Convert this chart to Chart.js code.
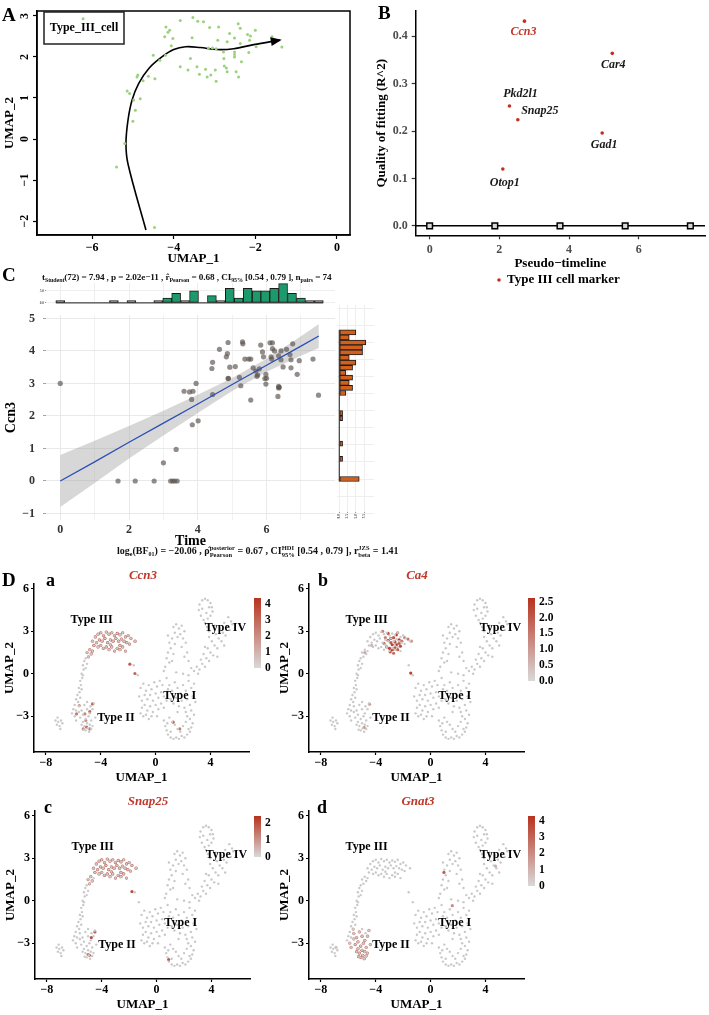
<!DOCTYPE html>
<html>
<head>
<meta charset="utf-8">
<title>Type III cell markers</title>
<script src="https://cdn.jsdelivr.net/npm/chart.js@4.4.1/dist/chart.umd.min.js"></script>
<style>
  body { margin: 0; width: 709px; height: 1015px; position: relative; overflow: hidden; background: #fff; font-family: "Liberation Serif", serif; }
  canvas { position: absolute; }
  .txt { position: absolute; font-weight: bold; white-space: nowrap; color: #000; line-height: 1; }
  .letter { font-size: 19px; }
  .sub { font-size: 18px; }
  .gene { font-style: italic; color: #c0392b; font-size: 13px; transform: translate(-50%, -50%); }
  .stat { font-size: 10px; color: #111; }
  .stat sub { font-size: 6px; vertical-align: -2px; }
  .stk { display: inline-flex; flex-direction: column; font-size: 6.5px; line-height: 1; vertical-align: middle; }
  .top { font-size: 9.2px; letter-spacing: -0.1px; }
</style>
</head>
<body>
<canvas id="chartA" width="355" height="266" style="left:0;top:0"></canvas>
<canvas id="chartB" width="354" height="290" style="left:355px;top:0"></canvas>
<canvas id="chartTopHist" width="340" height="26" style="left:0;top:280px"></canvas>
<canvas id="chartC" width="340" height="252" style="left:0;top:300px"></canvas>
<canvas id="chartRightHist" width="55" height="230" style="left:330px;top:300px"></canvas>
<canvas id="chartDa" width="290" height="212" style="left:0;top:575px"></canvas>
<canvas id="chartDb" width="290" height="212" style="left:275px;top:575px"></canvas>
<canvas id="chartDc" width="290" height="212" style="left:1px;top:802px"></canvas>
<canvas id="chartDd" width="290" height="212" style="left:275px;top:802px"></canvas>

<div class="txt letter" style="left:2px;top:5px">A</div>
<div class="txt letter" style="left:378px;top:3px">B</div>
<div class="txt letter" style="left:2px;top:265px">C</div>
<div class="txt letter" style="left:2px;top:570px">D</div>
<div class="txt sub" style="left:46px;top:571px">a</div>
<div class="txt sub" style="left:318px;top:571px">b</div>
<div class="txt sub" style="left:44px;top:798px">c</div>
<div class="txt sub" style="left:317px;top:798px">d</div>
<div class="txt gene" style="left:143px;top:574px">Ccn3</div>
<div class="txt gene" style="left:417px;top:574px">Ca4</div>
<div class="txt gene" style="left:148px;top:800px">Snap25</div>
<div class="txt gene" style="left:418px;top:800px">Gnat3</div>

<div class="txt stat top" style="left:42px;top:273px">t<sub>Student</sub>(72) = 7.94 , p = 2.02e&minus;11 , r&#770;<sub>Pearson</sub> = 0.68 , CI<sub>95%</sub> [0.54 , 0.79 ], n<sub>pairs</sub> = 74</div>
<div class="txt stat" style="left:117px;top:545px">log<sub>e</sub>(BF<sub>01</sub>) = &minus;20.06 , &rho;&#770;<span class="stk"><span>posterior</span><span>Pearson</span></span> = 0.67 , CI<span class="stk"><span>HDI</span><span>95%</span></span> [0.54 , 0.79 ], r<span class="stk"><span>JZS</span><span>beta</span></span> = 1.41</div>

<script>
// ---------- A : Type III cells on UMAP with trajectory ----------
const cellsA = [[-6.22,2.93],[-3.53,2.96],[-3.84,2.89],[-3.41,2.87],[-3.27,2.86],[-4.19,2.73],[-4.10,2.65],[-4.14,2.60],[-3.12,2.72],[-2.90,2.73],[-2.42,2.81],[-2.37,2.70],[-2.00,2.65],[-2.19,2.55],[-2.12,2.51],[-2.63,2.57],[-3.55,2.47],[-4.22,2.49],[-4.02,2.45],[-2.51,2.46],[-2.14,2.41],[-2.92,2.41],[-2.69,2.37],[-2.37,2.33],[-1.59,2.49],[-1.58,2.37],[-1.35,2.24],[-1.98,2.25],[-4.06,2.27],[-3.15,2.22],[-3.05,2.22],[-2.96,2.20],[-2.78,2.12],[-2.51,2.12],[-2.51,2.06],[-2.51,2.00],[-2.16,2.11],[-4.20,2.04],[-4.50,2.04],[-3.59,1.96],[-2.77,1.96],[-2.34,1.88],[-4.34,1.92],[-3.84,1.76],[-3.65,1.68],[-3.43,1.76],[-2.76,1.78],[-2.71,1.73],[-3.22,1.70],[-2.98,1.68],[-2.69,1.64],[-2.47,1.64],[-3.37,1.58],[-3.09,1.56],[-3.18,1.51],[-2.96,1.41],[-2.41,1.51],[-4.88,1.56],[-4.90,1.51],[-4.62,1.53],[-4.46,1.47],[-4.75,1.42],[-5.14,1.17],[-5.08,1.11],[-4.82,0.98],[-4.98,0.95],[-4.94,0.70],[-5.00,0.43],[-5.20,-0.11],[-5.40,-0.68],[-4.47,-2.16]];
const trajectory = [[-4.68,-2.22],[-5.12,-0.61],[-5.17,-0.11],[-5.12,0.46],[-5.02,0.95],[-4.86,1.35],[-4.61,1.72],[-4.29,2.00],[-4.00,2.18],[-3.71,2.25],[-3.35,2.23],[-2.94,2.18],[-2.53,2.20],[-2.04,2.30],[-1.40,2.41]];
const aTicksX = [-6, -4, -2, 0];
const aTicksY = [-2, -1, 0, 1, 2, 3];

// ---------- B : quality of fitting ----------
const markerGenes = ['Ccn3', 'Car4', 'Pkd2l1', 'Snap25', 'Gad1', 'Otop1'];
const markerTime = [2.72, 5.24, 2.29, 2.53, 4.95, 2.10];
const markerR2 = [0.432, 0.364, 0.253, 0.224, 0.196, 0.120];
const knotTime = [0, 1.87, 3.74, 5.61, 7.48];
const knotR2 = [0, 0, 0, 0, 0];
const bTicksX = [0, 2, 4, 6];
const bTicksY = [0, 0.1, 0.2, 0.3, 0.4];

// ---------- C : Ccn3 vs time ----------
const cTime = [0,1.68,2.18,2.73,3.21,3.27,3.33,3.40,3.00,3.37,3.84,4.01,3.60,3.76,3.86,3.82,3.95,4.43,4.88,5.25,5.54,5.95,5.98,6.35,6.37,6.33,7.51,4.88,5.30,5.31,4.63,4.86,4.83,4.43,4.41,4.93,5.09,5.37,5.48,5.54,4.89,5.21,5.83,5.88,5.91,6.10,6.17,6.17,6.23,6.42,6.58,6.35,6.13,6.15,6.42,6.68,6.76,6.71,6.95,7.35,6.48,6.71,6.89,5.61,5.69,5.79,5.74,5.72,5.98,6.00,6.35];
const cCcn3 = [3.00,0,0,0,0,0,0,0,0.56,0.97,1.73,1.85,2.76,2.74,2.76,2.51,3.00,2.66,3.15,2.93,2.49,3.15,2.98,2.86,2.88,2.60,2.64,4.26,4.28,4.22,4.05,3.92,3.82,3.65,3.46,3.50,3.52,3.75,3.75,3.75,3.16,3.19,4.18,3.97,3.82,4.25,4.25,4.07,4.00,4.00,4.05,3.85,3.82,3.75,3.73,3.89,4.22,3.73,3.70,3.75,3.51,3.48,3.28,3.48,3.38,3.45,3.26,3.22,3.28,3.16,2.91];
const fitTime = [0, 1, 2, 3, 4, 5, 6, 7, 7.52];
const fitMean = [0, 0.59, 1.19, 1.78, 2.37, 2.97, 3.56, 4.15, 4.46];
const fitUpper = [0.80, 1.24, 1.69, 2.16, 2.65, 3.17, 3.76, 4.45, 4.83];
const fitLower = [-0.80, -0.06, 0.69, 1.40, 2.09, 2.77, 3.36, 3.85, 4.09];
const timeBins = [0,0.26,0.52,0.78,1.04,1.30,1.56,1.82,2.07,2.33,2.59,2.85,3.11,3.37,3.63,3.89,4.15,4.41,4.67,4.93,5.19,5.45,5.71,5.96,6.22,6.48,6.74,7.00,7.26,7.52];
const timeCounts = [1,0,0,0,0,0,1,0,1,0,0,1,2,4,1,5,0,3,1,6,2,6,5,5,6,8,4,2,1,1];
const ccn3Bins = [0,0.15,0.30,0.44,0.59,0.74,0.89,1.04,1.19,1.33,1.48,1.63,1.78,1.93,2.08,2.22,2.37,2.52,2.67,2.82,2.97,3.11,3.26,3.41,3.56,3.71,3.86,4.00,4.15,4.30];
const ccn3Counts = [6,0,0,0,1,0,0,1,0,0,0,0,1,1,0,0,0,2,4,3,4,2,4,5,3,7,7,8,3,5];
const cGridX = [0, 1, 2, 3, 4, 5, 6, 7];
const cGridY = [-1, -0.5, 0, 0.5, 1, 1.5, 2, 2.5, 3, 3.5, 4, 4.5, 5];
const histTicks = [0, 2.5, 5, 7.5];

// ---------- D : feature plots ----------
const umapCells = [
 [-4.6,2.3],[-4.4,2.6],[-4.2,2.8],[-4.0,2.9],[-3.8,2.7],[-3.6,2.95],[-3.4,2.8],[-3.2,2.9],[-3.0,2.7],[-2.8,2.85],[-2.6,2.75],[-2.4,2.9],[-2.2,2.6],[-2.0,2.7],[-1.8,2.5],[-1.5,2.3],
 [-4.5,2.0],[-4.3,2.2],[-4.1,2.4],[-3.9,2.3],[-3.7,2.5],[-3.5,2.2],[-3.3,2.4],[-3.1,2.3],[-2.9,2.5],[-2.7,2.3],[-2.5,2.45],[-2.3,2.3],[-2.1,2.2],[-1.9,2.1],
 [-4.2,1.9],[-4.0,2.0],[-3.8,1.8],[-3.6,1.9],[-3.4,1.7],[-3.2,1.9],[-3.0,1.6],[-2.8,1.8],[-2.6,1.7],[-2.4,1.9],[-2.2,1.6],[-2.6,2.0],[-3.3,2.05],
 [-4.8,1.7],[-5.0,1.5],[-4.7,1.4],[-4.9,1.2],[-5.1,1.1],[-4.6,1.6],[-1.6,0.6],[-1.3,-0.1],
 [-5.2,0.9],[-5.3,0.6],[-5.25,0.3],[-5.4,0.0],[-5.35,-0.3],[-5.5,-0.5],[-5.45,-0.8],[-5.6,-1.0],[-5.55,-1.3],[-5.7,-1.5],[-5.8,-1.8],[-5.65,-2.0],[-5.9,-2.2],[-6.0,-2.5],[-5.1,0.4],[-5.0,0.7],[-5.3,-0.1],[-5.4,-1.1],[-5.5,-1.7],[-5.8,-2.6],[-6.1,-2.8],[-5.9,-3.0],
 [-5.6,-2.3],[-5.4,-2.6],[-5.2,-2.2],[-5.0,-2.5],[-4.8,-2.8],[-5.3,-2.9],[-5.5,-3.1],[-5.1,-3.2],[-4.9,-3.0],[-4.7,-3.3],[-5.3,-3.4],[-5.0,-3.5],[-4.8,-3.6],[-5.2,-3.7],[-4.95,-3.85],[-4.7,-3.9],[-5.1,-4.0],[-4.85,-4.1],[-4.6,-3.7],[-5.4,-3.6],[-5.6,-2.7],[-4.5,-2.1],[-4.6,-2.5],[-5.8,-3.3],[-4.4,-3.1],[-5.0,-2.0],[-4.75,-2.3],[-5.25,-3.95],
 [-7.3,-3.3],[-7.1,-3.4],[-6.9,-3.3],[-7.2,-3.6],[-7.0,-3.7],[-6.8,-3.5],[-6.95,-3.9],[-7.15,-3.1],
 [-1.1,-1.0],[-0.9,-0.7],[-0.7,-1.2],[-0.5,-0.8],[-0.3,-1.1],[-0.1,-0.6],[0.1,-0.9],[0.3,-0.5],[0.5,-0.8],
 [-1.2,-1.6],[-1.0,-1.9],[-0.8,-1.5],[-0.6,-1.8],[-0.4,-1.5],[-0.2,-1.9],[0.0,-1.4],[0.2,-1.7],[0.4,-1.3],[0.6,-1.6],
 [-1.0,-2.4],[-0.8,-2.2],[-0.6,-2.6],[-0.4,-2.3],[-0.2,-2.7],[0.0,-2.2],[0.2,-2.5],[0.4,-2.1],[0.6,-2.4],
 [-0.9,-3.0],[-0.7,-2.9],[-0.5,-3.2],[-0.3,-3.0],[-1.1,-2.8],[0.1,-3.0],
 [0.6,-3.3],[0.7,-3.7],[0.8,-4.0],[0.9,-4.3],[1.1,-4.5],[1.3,-4.6],[1.5,-4.5],[1.7,-4.6],[1.9,-4.4],[2.1,-4.5],[2.3,-4.3],[2.5,-4.1],[2.6,-3.8],[2.7,-3.5],[2.5,-3.2],[2.3,-3.0],[1.0,-3.1],[1.2,-3.4],[1.4,-3.6],[1.6,-3.9],[1.8,-4.1],[2.0,-3.7],[2.2,-3.4],[1.1,-4.1],[2.4,-3.9],[0.85,-3.5],
 [1.0,-0.8],[1.2,-1.2],[1.4,-0.6],[1.6,-1.0],[1.8,-1.4],[2.0,-0.8],[2.2,-1.2],[2.4,-0.5],[2.6,-1.0],[2.8,-0.7],
 [1.1,-1.8],[1.3,-2.1],[1.5,-1.7],[1.7,-2.3],[1.9,-1.9],[2.1,-2.4],[2.3,-1.8],[2.5,-2.2],[2.7,-1.6],[2.9,-2.0],
 [2.2,-2.7],[2.6,-2.6],[2.8,-2.9],[1.6,-2.7],[0.8,-1.9],[0.9,-1.1],[2.0,0.0],[2.4,-0.1],[1.5,0.1],[0.8,-0.3],
 [2.8,0.2],[3.0,0.5],[3.2,0.3],[3.4,0.7],[3.6,0.5],[3.3,1.0],[3.7,1.1],[3.9,0.9],[3.5,1.4],[4.0,1.5],[4.2,1.3],[3.8,1.8],[4.3,2.0],[4.5,1.8],[4.1,2.3],[4.6,2.5],[4.8,2.3],[4.4,2.8],[4.9,2.9],[5.1,2.7],[4.7,3.2],[5.2,3.3],[5.4,3.1],[5.0,3.6],[5.5,3.7],[5.3,4.0],[5.6,3.5],[4.3,3.4],[3.9,2.6],[3.1,0.0],[2.6,0.4],[4.5,1.2],[3.6,1.9],[5.0,2.0],
 [3.2,4.9],[3.4,5.2],[3.6,5.3],[3.8,5.2],[4.0,5.0],[4.1,4.7],[4.15,4.4],[4.0,4.1],[3.8,3.9],[3.5,3.8],[3.3,4.1],[3.15,4.5],[3.7,4.3],[3.9,4.7],[3.4,4.6],[3.6,3.6],[3.75,3.3],[3.9,3.0],
 [1.3,3.3],[1.5,3.5],[1.7,3.2],[1.9,3.4],[2.1,3.0],[1.4,2.9],[1.6,2.6],[1.8,2.8],[1.2,2.5],[1.0,2.2],[1.4,2.1],[1.1,1.8],[0.9,1.5],[1.3,1.4],[0.8,1.1],[1.0,0.8],[0.7,0.5],[1.2,0.9],[0.6,0.2],[2.0,2.5],[2.2,2.2],[1.9,1.9],[2.3,1.5],[2.1,1.2],[2.4,0.9],[0.9,2.7]
];
const ccn3Expr = [
 [-4.6,2.3,3.2],[-4.4,2.6,3.8],[-4.2,2.8,3.0],[-4.0,2.9,4.2],[-3.8,2.7,3.5],[-3.6,2.95,4.0],[-3.4,2.8,3.3],[-3.2,2.9,3.9],[-3.0,2.7,3.6],[-2.8,2.85,4.1],[-2.6,2.75,3.4],[-2.4,2.9,3.8],[-2.2,2.6,3.7],[-2.0,2.7,3.2],[-1.8,2.5,3.0],[-1.5,2.3,3.5],
 [-4.5,2.0,3.9],[-4.3,2.2,3.1],[-4.1,2.4,4.0],[-3.9,2.3,3.6],[-3.7,2.5,4.3],[-3.5,2.2,3.8],[-3.3,2.4,3.5],[-3.1,2.3,4.1],[-2.9,2.5,3.7],[-2.7,2.3,3.9],[-2.5,2.45,3.3],[-2.3,2.3,4.0],[-2.1,2.2,3.6],[-1.9,2.1,3.4],
 [-4.2,1.9,3.5],[-4.0,2.0,3.2],[-3.8,1.8,3.8],[-3.6,1.9,4.0],[-3.4,1.7,3.4],[-3.2,1.9,3.9],[-3.0,1.6,3.1],[-2.8,1.8,3.7],[-2.6,1.7,3.5],[-2.4,1.9,3.8],[-2.2,1.6,3.0],[-2.6,2.0,4.2],[-3.3,2.05,3.6],
 [-4.8,1.7,3.0],[-5.0,1.5,2.8],[-4.7,1.4,3.3],[-4.9,1.2,2.6],[-4.6,1.6,3.1],[-1.88,0.68,3.2],[-1.51,0.02,3.0],
 [-5.77,-2.84,2.5],[-5.57,-2.25,2.0],[-4.6,-2.13,3.2],[-4.8,-2.67,2.8],[-5.16,-2.84,2.2],[-5.09,-3.3,2.0],[-5.04,-3.77,3.0],[-4.8,-3.9,2.6],[-5.28,-3.9,2.4],
 [1.28,-3.42,3.0],[1.76,-3.9,2.4]
];
const ca4Expr = [
 [-3.5,3.0,1.5],[-3.1,2.85,2.2],[-2.9,2.5,2.5],[-2.7,2.55,2.0],[-2.5,2.75,2.4],[-2.4,2.9,1.8],[-2.3,2.4,2.5],[-2.6,2.25,2.2],[-2.9,2.2,1.9],[-3.1,2.35,2.6],[-2.8,2.05,2.3],[-2.5,2.05,2.5],[-2.3,2.15,2.0],[-2.1,2.3,1.6],[-1.9,2.55,1.2],[-1.65,2.45,1.5],[-1.4,2.3,1.1],[-3.0,1.8,2.4],[-2.8,1.7,2.5],[-2.6,1.85,2.1],[-3.2,1.9,2.0],[-2.4,1.7,1.8],[-2.2,1.95,2.2],[-3.3,2.55,1.4],[-2.95,1.55,2.2],[-2.7,1.45,1.7],[-3.4,2.15,1.6],
 [-1.45,0.05,2.4],[-4.45,-2.15,1.0],[-4.85,-3.8,1.2],[-4.8,1.5,0.8],[-4.3,2.0,0.6]
];
const snap25Expr = [
 [-4.6,2.3,1.9],[-4.4,2.6,2.2],[-4.2,2.8,1.8],[-4.0,2.9,2.3],[-3.8,2.7,2.0],[-3.6,2.95,2.2],[-3.4,2.8,1.7],[-3.2,2.9,2.1],[-3.0,2.7,2.2],[-2.8,2.85,2.0],[-2.6,2.75,2.3],[-2.4,2.9,1.9],[-2.2,2.6,2.1],[-2.0,2.7,1.8],[-1.8,2.5,2.0],[-1.5,2.3,1.9],
 [-4.5,2.0,2.1],[-4.3,2.2,1.8],[-4.1,2.4,2.2],[-3.9,2.3,2.0],[-3.7,2.5,2.3],[-3.5,2.2,2.1],[-3.3,2.4,1.9],[-3.1,2.3,2.2],[-2.9,2.5,2.0],[-2.7,2.3,2.3],[-2.5,2.45,1.8],[-2.3,2.3,2.1],[-2.1,2.2,2.0],[-1.9,2.1,1.7],
 [-4.2,1.9,2.0],[-4.0,2.0,1.8],[-3.8,1.8,2.2],[-3.6,1.9,2.1],[-3.4,1.7,1.9],[-3.2,1.9,2.3],[-3.0,1.6,1.8],[-2.8,1.8,2.1],[-2.6,1.7,2.0],[-2.4,1.9,2.2],[-2.2,1.6,1.7],[-2.6,2.0,2.3],[-3.3,2.05,2.0],
 [-4.8,1.7,1.7],[-5.0,1.5,1.5],[-4.7,1.4,1.9],[-4.9,1.2,1.4],
 [-1.8,0.65,2.0],[-4.5,-2.2,1.8],[-4.76,-2.6,2.0],[-5.0,-3.8,1.6],[-4.9,-3.85,1.8],[0.88,-4.16,1.9]
];
const gnat3Expr = [
 [-5.6,-2.3,2.5],[-5.4,-2.6,3.2],[-5.2,-2.2,2.8],[-5.0,-2.5,3.6],[-4.8,-2.8,3.0],[-5.3,-2.9,3.9],[-5.5,-3.1,3.4],[-5.1,-3.2,4.1],[-4.9,-3.0,3.3],[-4.7,-3.3,2.9],[-5.3,-3.4,3.7],[-5.0,-3.5,4.2],[-4.8,-3.6,3.5],[-5.2,-3.7,3.8],[-4.95,-3.85,4.0],[-4.7,-3.9,3.1],[-5.1,-4.0,3.6],[-4.85,-4.1,3.9],[-4.6,-3.7,2.7],[-5.4,-3.6,3.3],[-5.6,-2.7,2.2],[-4.5,-2.1,2.4],[-4.6,-2.5,3.0],[-5.8,-3.3,2.6],[-4.4,-3.1,2.8],[-5.9,-3.0,2.0],[-5.65,-2.0,1.8],[-5.25,-3.95,3.4],
 [0.97,2.0,3.2],[1.58,-0.35,2.0],[4.73,2.45,1.2],[-6.9,-3.3,0.8]
];
const typeNames = ['Type III', 'Type IV', 'Type I', 'Type II'];
const typeX = [-4.67, 5.09, 1.76, -2.9];
const typeY = [3.8, 3.21, -1.55, -3.12];
const dTicksX = [-8, -4, 0, 4];
const dTicksY = [-3, 0, 3, 6];

// ---------- defaults ----------
Chart.defaults.font.family = '"Liberation Serif", "Times New Roman", serif';
Chart.defaults.font.size = 12;
Chart.defaults.font.weight = 'bold';
Chart.defaults.color = '#000';
Chart.defaults.animation = false;
Chart.defaults.plugins.legend.display = false;
Chart.defaults.plugins.tooltip.enabled = false;

const FONT = '"Liberation Serif", "Times New Roman", serif';
const minus = v => String(v).replace('-', '\u2212');
const fixTicks = list => scale => { scale.ticks = list.map(v => ({ value: v })); };
const xy = (xs, ys) => xs.map((x, i) => ({ x: x, y: ys[i] }));

function exprColor(f) {
  f = Math.max(0, Math.min(1, f));
  const lo = [217, 217, 217], hi = [183, 50, 30];
  return 'rgb(' + lo.map((c, i) => Math.round(c + (hi[i] - c) * f)).join(',') + ')';
}

// black L-shaped axis with outside ticks
function classicAxis(o) {
  return {
    type: 'linear', min: o.min, max: o.max, offset: false,
    afterBuildTicks: fixTicks(o.ticks),
    afterFit: s => { if (s.isHorizontal()) s.height = o.size; else s.width = o.size; },
    border: { display: true, color: '#000', width: 1.5 },
    grid: { display: true, drawOnChartArea: false, drawTicks: true, tickLength: o.tl || 4, tickColor: o.tc || '#000', tickWidth: 1.2 },
    ticks: { color: o.color || '#000', padding: o.pad || 2, callback: o.fmt || (v => minus(v)), font: { size: 12 } },
    title: { display: !!o.title, text: o.title, color: '#000', font: { size: 13 }, padding: o.tpad || 0 }
  };
}

// ---------- plugins ----------
const frameBox = {
  id: 'frameBox',
  afterDraw(chart) {
    const { ctx, chartArea: a } = chart;
    ctx.save();
    ctx.strokeStyle = '#000'; ctx.lineWidth = 1.5;
    ctx.strokeRect(a.left, a.top, a.right - a.left, a.bottom - a.top);
    ctx.restore();
  }
};

const rotatedYLabels = {
  id: 'rotatedYLabels',
  afterDraw(chart) {
    const s = chart.scales.y, ctx = chart.ctx;
    ctx.save();
    ctx.font = 'bold 12px ' + FONT; ctx.fillStyle = '#000';
    ctx.textAlign = 'center'; ctx.textBaseline = 'middle';
    s.ticks.forEach(t => {
      ctx.save();
      ctx.translate(25, s.getPixelForValue(t.value));
      ctx.rotate(-Math.PI / 2);
      ctx.fillText(minus(t.value), 0, 0);
      ctx.restore();
    });
    ctx.restore();
  }
};

const arrowHead = {
  id: 'arrowHead',
  afterDatasetsDraw(chart) {
    const pts = chart.getDatasetMeta(1).data;
    const a = pts[pts.length - 2], b = pts[pts.length - 1];
    const ang = Math.atan2(b.y - a.y, b.x - a.x);
    const ctx = chart.ctx;
    ctx.save();
    ctx.translate(b.x, b.y); ctx.rotate(ang);
    ctx.beginPath(); ctx.moveTo(2, 0); ctx.lineTo(-9, -4.5); ctx.lineTo(-9, 4.5); ctx.closePath();
    ctx.fillStyle = '#000'; ctx.fill();
    ctx.restore();
  }
};

const cellTypeBox = {
  id: 'cellTypeBox',
  afterDraw(chart) {
    const { ctx, chartArea: a } = chart;
    ctx.save();
    ctx.strokeStyle = '#222'; ctx.lineWidth = 1.5;
    ctx.strokeRect(a.left + 7, a.top + 1, 80, 32);
    ctx.font = 'bold 12px ' + FONT; ctx.fillStyle = '#000';
    ctx.textAlign = 'center'; ctx.textBaseline = 'middle';
    ctx.fillText('Type_III_cell', a.left + 47, a.top + 17);
    ctx.restore();
  }
};

const geneLabelOffset = { Ccn3: [-1, 11], Car4: [1, 12], Pkd2l1: [11, -12], Snap25: [22, -9], Gad1: [2, 12], Otop1: [2, 14] };
const markerLabels = {
  id: 'markerLabels',
  beforeDatasetsDraw(chart) {
    const { ctx, scales: { y }, chartArea: a } = chart;
    // zero reference line
    ctx.save();
    ctx.strokeStyle = '#000'; ctx.lineWidth = 1.5;
    ctx.beginPath(); ctx.moveTo(a.left, y.getPixelForValue(0)); ctx.lineTo(a.right, y.getPixelForValue(0)); ctx.stroke();
    ctx.restore();
  },
  afterDatasetsDraw(chart) {
    const { ctx, scales: { x, y } } = chart;
    ctx.save();
    ctx.font = 'italic bold 12px ' + FONT;
    ctx.textAlign = 'center'; ctx.textBaseline = 'middle';
    markerGenes.forEach((g, i) => {
      const off = geneLabelOffset[g];
      ctx.fillStyle = g === 'Ccn3' ? '#c0392b' : '#1a1a1a';
      ctx.fillText(g, x.getPixelForValue(markerTime[i]) + off[0], y.getPixelForValue(markerR2[i]) + off[1]);
    });
    // legend
    ctx.fillStyle = '#c62d1f';
    ctx.beginPath(); ctx.arc(144, 280, 1.8, 0, Math.PI * 2); ctx.fill();
    ctx.fillStyle = '#000'; ctx.font = 'bold 13px ' + FONT; ctx.textAlign = 'left';
    ctx.fillText('Type III cell marker', 152, 280);
    ctx.restore();
  }
};

const histBaseline = {
  id: 'histBaseline',
  afterDatasetsDraw(chart) {
    const bars = chart.getDatasetMeta(0).data, ctx = chart.ctx;
    const first = bars[0], last = bars[bars.length - 1];
    ctx.save();
    ctx.strokeStyle = '#1a1a1a'; ctx.lineWidth = 1;
    ctx.beginPath();
    if (chart.options.indexAxis === 'y') {
      const x0 = chart.scales.x.getPixelForValue(0);
      ctx.moveTo(x0, first.y + first.height / 2); ctx.lineTo(x0, last.y - last.height / 2);
    } else {
      const y0 = chart.scales.y.getPixelForValue(0);
      ctx.moveTo(first.x - first.width / 2, y0); ctx.lineTo(last.x + last.width / 2, y0);
    }
    ctx.stroke();
    ctx.restore();
  }
};

function umapDecor(cb) {
  return {
    id: 'umapDecor',
    afterDraw(chart) {
      const { ctx, scales: { x, y } } = chart;
      ctx.save();
      ctx.font = 'bold 12px ' + FONT; ctx.fillStyle = '#000';
      ctx.textAlign = 'center'; ctx.textBaseline = 'middle';
      typeNames.forEach((n, i) => ctx.fillText(n, x.getPixelForValue(typeX[i]), y.getPixelForValue(typeY[i])));
      // colour bar
      const g = ctx.createLinearGradient(0, cb.y + cb.h, 0, cb.y);
      g.addColorStop(0, exprColor(0)); g.addColorStop(1, exprColor(1));
      ctx.fillStyle = g;
      ctx.fillRect(cb.x, cb.y, 7, cb.h);
      ctx.fillStyle = '#000'; ctx.textAlign = 'left';
      ctx.font = 'bold 11.5px ' + FONT;
      cb.ticks.forEach(t => {
        ctx.fillText(t.toFixed(cb.digits), cb.x + 11, cb.y + cb.h - (t / cb.max) * cb.h);
      });
      ctx.restore();
    }
  };
}

// ---------- A ----------
new Chart(document.getElementById('chartA'), {
  type: 'scatter',
  data: {
    datasets: [
      { data: cellsA.map(p => ({ x: p[0], y: p[1] })), backgroundColor: '#9ad27c', pointRadius: 1.5, borderWidth: 0 },
      { type: 'line', data: trajectory.map(p => ({ x: p[0], y: p[1] })), borderColor: '#000', borderWidth: 1.6, pointRadius: 0, tension: 0.35, fill: false }
    ]
  },
  options: {
    responsive: false,
    layout: { padding: { top: 11, right: 5, left: 0, bottom: 0 }, autoPadding: false },
    scales: {
      x: classicAxis({ min: -7.35, max: 0.32, ticks: aTicksX, size: 31, title: 'UMAP_1', tl: 4, pad: 2 }),
      y: classicAxis({ min: -2.34, max: 3.12, ticks: aTicksY, size: 37, title: 'UMAP_2', color: 'rgba(0,0,0,0)', tpad: 2 })
    }
  },
  plugins: [frameBox, arrowHead, rotatedYLabels, cellTypeBox]
});

// ---------- B ----------
new Chart(document.getElementById('chartB'), {
  type: 'scatter',
  data: {
    datasets: [
      { data: xy(markerTime, markerR2), backgroundColor: '#c62d1f', pointRadius: 1.8, borderWidth: 0 },
      { data: xy(knotTime, knotR2), pointStyle: 'rect', pointRadius: 4, backgroundColor: '#d8d8d8', borderColor: '#000', borderWidth: 1.5 }
    ]
  },
  options: {
    responsive: false,
    layout: { padding: { top: 4, right: 4, left: 0, bottom: 19 }, autoPadding: false },
    scales: {
      x: classicAxis({ min: -0.4, max: 7.9, ticks: bTicksX, size: 35.7, title: 'Pseudo\u2212timeline', color: '#4d4d4d', tc: '#333', tl: 4, pad: 3 }),
      y: classicAxis({ min: -0.02, max: 0.453, ticks: bTicksY, size: 60.7, title: 'Quality of fitting (R^2)', color: '#4d4d4d', tc: '#333', tl: 4, pad: 4, tpad: 19, fmt: v => v.toFixed(1) })
    }
  },
  plugins: [markerLabels]
});

// ---------- C main ----------
new Chart(document.getElementById('chartC'), {
  type: 'scatter',
  data: {
    datasets: [
      { type: 'line', data: xy(fitTime, fitUpper), borderWidth: 0, pointRadius: 0, fill: '+1', backgroundColor: 'rgba(160,160,160,0.42)', order: 3 },
      { type: 'line', data: xy(fitTime, fitLower), borderWidth: 0, pointRadius: 0, fill: false, order: 3 },
      { type: 'line', data: xy(fitTime, fitMean), borderColor: '#2c4fb8', borderWidth: 1.3, pointRadius: 0, fill: false, order: 1 },
      { data: xy(cTime, cCcn3), backgroundColor: 'rgba(90,82,78,0.66)', pointRadius: 2.6, borderWidth: 0, order: 2 }
    ]
  },
  options: {
    responsive: false,
    layout: { padding: { top: 5, right: 5, left: 0, bottom: 0 }, autoPadding: false },
    scales: {
      x: {
        type: 'linear', min: -0.415, max: 7.99,
        afterBuildTicks: fixTicks(cGridX),
        afterFit: s => { s.height = 32; },
        border: { display: false },
        grid: { color: c => (c.tick && c.tick.value % 2 === 0) ? '#e6e6e6' : '#f0f0f0', lineWidth: 0.9, drawTicks: true, tickLength: 2, tickColor: 'rgba(0,0,0,0)' },
        ticks: { color: '#333', padding: 1, font: { size: 12 }, callback: v => v % 2 === 0 ? v : '' },
        title: { display: true, text: 'Time', color: '#000', font: { size: 14 }, padding: { top: 0, bottom: 2 } }
      },
      y: {
        type: 'linear', min: -1.2, max: 5.1,
        afterBuildTicks: fixTicks(cGridY),
        afterFit: s => { s.width = 46; },
        border: { display: false },
        grid: { color: c => (c.tick && Number.isInteger(c.tick.value)) ? '#e6e6e6' : '#f0f0f0', lineWidth: 0.9, drawTicks: true, tickLength: 3,
                tickColor: c => (c.tick && Number.isInteger(c.tick.value)) ? '#999' : 'rgba(0,0,0,0)' },
        ticks: { color: '#333', padding: 8, font: { size: 12 }, callback: v => Number.isInteger(v) ? minus(v) : '' },
        title: { display: true, text: 'Ccn3', color: '#000', font: { size: 14 }, padding: { top: 3, bottom: 0 } }
      }
    }
  }
});

// ---------- C marginal histograms ----------
new Chart(document.getElementById('chartTopHist'), {
  type: 'bar',
  data: { datasets: [{ data: xy(timeBins, timeCounts), backgroundColor: '#1d9a6c', borderColor: '#1a1a1a', borderWidth: 1, borderSkipped: false, barThickness: 8.9 }] },
  options: {
    responsive: false,
    layout: { padding: { top: 3, right: 5, left: 0, bottom: 3 }, autoPadding: false },
    scales: {
      x: { type: 'linear', min: -0.415, max: 7.99, offset: false, afterBuildTicks: fixTicks(cGridX), afterFit: s => { s.height = 0; },
           border: { display: false }, grid: { offset: false, color: '#eeeeee', drawTicks: false }, ticks: { display: false } },
      y: { type: 'linear', min: 0, max: 8.2, afterBuildTicks: fixTicks(histTicks), afterFit: s => { s.width = 46; },
           border: { display: false }, grid: { color: '#eeeeee', tickLength: 1, tickColor: '#999' },
           ticks: { font: { size: 3.5 }, color: '#555', padding: 1, callback: v => v.toFixed(1) } }
    }
  },
  plugins: [histBaseline]
});

new Chart(document.getElementById('chartRightHist'), {
  type: 'bar',
  data: { datasets: [{ data: ccn3Bins.map((b, i) => ({ x: ccn3Counts[i], y: b })), backgroundColor: '#d2601d', borderColor: '#1a1a1a', borderWidth: 1, borderSkipped: false, barThickness: 5.0 }] },
  options: {
    responsive: false,
    indexAxis: 'y',
    layout: { padding: { top: 5, right: 10.8, left: 6.6, bottom: 0 }, autoPadding: false },
    scales: {
      x: { type: 'linear', min: -0.8, max: 10.5, afterBuildTicks: fixTicks(histTicks), afterFit: s => { s.height = 18; },
           border: { display: false }, grid: { color: '#eeeeee', tickLength: 1, tickColor: '#999' },
           ticks: { font: { size: 3.5 }, color: '#555', padding: 1, minRotation: 90, maxRotation: 90, callback: v => v.toFixed(1) } },
      y: { type: 'linear', min: -0.966, max: 5.1, offset: false, afterBuildTicks: fixTicks(cGridY), afterFit: s => { s.width = 0; },
           border: { display: false }, grid: { offset: false, color: '#eeeeee', drawTicks: false }, ticks: { display: false } }
    }
  },
  plugins: [histBaseline]
});

// ---------- D feature plots ----------
function featurePlot(id, expr, cb) {
  return new Chart(document.getElementById(id), {
    type: 'scatter',
    data: {
      datasets: [
        { data: umapCells.map(p => ({ x: p[0], y: p[1] })), backgroundColor: '#c9c9c9', pointRadius: 1.2, borderWidth: 0 },
        { data: expr.map(p => ({ x: p[0], y: p[1] })), backgroundColor: expr.map(p => exprColor(p[2] / cb.max)), pointRadius: 1.6, borderWidth: 0 }
      ]
    },
    options: {
      responsive: false,
      layout: { padding: { top: 8, right: 41, left: 0, bottom: 1.5 }, autoPadding: false },
      scales: {
        x: classicAxis({ min: -8.87, max: 6.81, ticks: dTicksX, size: 33.5, title: 'UMAP_1', tl: 3, pad: 1 }),
        y: classicAxis({ min: -5.53, max: 6.33, ticks: dTicksY, size: 34, title: 'UMAP_2', tl: 3, pad: 2, tpad: 2 })
      }
    },
    plugins: [umapDecor(cb)]
  });
}

featurePlot('chartDa', ccn3Expr, { x: 254, y: 23, h: 70, max: 4.4, ticks: [0, 1, 2, 3, 4], digits: 0 });
featurePlot('chartDb', ca4Expr, { x: 253, y: 23, h: 83, max: 2.62, ticks: [0, 0.5, 1, 1.5, 2, 2.5], digits: 1 });
featurePlot('chartDc', snap25Expr, { x: 253, y: 14, h: 41, max: 2.4, ticks: [0, 1, 2], digits: 0 });
featurePlot('chartDd', gnat3Expr, { x: 253, y: 14, h: 70, max: 4.3, ticks: [0, 1, 2, 3, 4], digits: 0 });
</script>
</body>
</html>
